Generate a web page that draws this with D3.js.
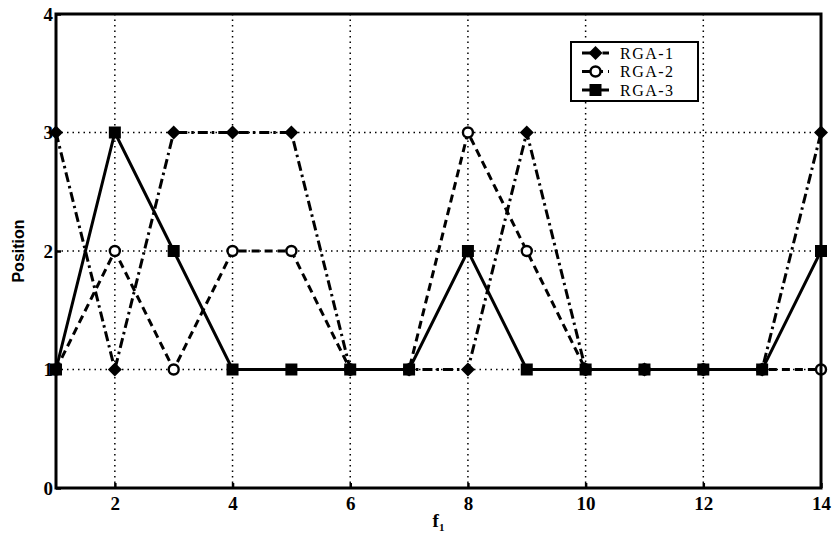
<!DOCTYPE html>
<html>
<head>
<meta charset="utf-8">
<script src="https://cdn.jsdelivr.net/npm/d3@7"></script>
<style>
  body { margin: 0; background: #fff; }
  text { fill: #000; }
</style>
</head>
<body>
<svg id="chart" width="838" height="535"></svg>
<script>
// data
var xs = [1, 2, 3, 4, 5, 6, 7, 8, 9, 10, 11, 12, 13, 14]
var rga1 = [3, 1, 3, 3, 3, 1, 1, 1, 3, 1, 1, 1, 1, 3]
var rga2 = [1, 2, 1, 2, 2, 1, 1, 3, 2, 1, 1, 1, 1, 1]
var rga3 = [1, 3, 2, 1, 1, 1, 1, 2, 1, 1, 1, 1, 1, 2]
var seriesNames = ["RGA-1", "RGA-2", "RGA-3"]
var xTicks = [2, 4, 6, 8, 10, 12, 14]
var yTicks = [0, 1, 2, 3, 4]

// plot box (note: "top" is taken by window.top)
var pLeft = 56, pRight = 821, pTop = 14, pBottom = 488

var svg = d3.select("#chart")

var x = d3.scaleLinear().domain([1, 14]).range([pLeft, pRight])
var y = d3.scaleLinear().domain([0, 4]).range([pBottom, pTop])

// grid
var grid = svg.append("g")
grid.selectAll(".gx").data(xTicks.filter(v => v < 14)).enter().append("line")
    .attr("x1", d => x(d)).attr("x2", d => x(d))
    .attr("y1", pTop).attr("y2", pBottom)
    .attr("stroke", "#000").attr("stroke-width", 1.5)
    .attr("stroke-dasharray", "1.5,4")
grid.selectAll(".gy").data(yTicks.filter(v => v > 0 && v < 4)).enter().append("line")
    .attr("x1", pLeft).attr("x2", pRight)
    .attr("y1", d => y(d)).attr("y2", d => y(d))
    .attr("stroke", "#000").attr("stroke-width", 1.5)
    .attr("stroke-dasharray", "1.5,4")

// axes
var fontTick = "'Liberation Serif', 'DejaVu Serif', serif"
var xAxis = svg.append("g").attr("transform", "translate(0," + pBottom + ")")
    .call(d3.axisBottom(x).tickValues(xTicks).tickFormat(d3.format("d"))
      .tickSize(-5).tickPadding(9))
var yAxis = svg.append("g").attr("transform", "translate(" + pLeft + ",0)")
    .call(d3.axisLeft(y).tickValues(yTicks).tickFormat(d3.format("d"))
      .tickSize(-5).tickPadding(3))
;[xAxis, yAxis].forEach(a => {
  a.select(".domain").remove()
  a.selectAll(".tick line").attr("stroke", "#000").attr("stroke-width", 2.5)
  a.selectAll(".tick text").attr("font-family", fontTick)
    .attr("font-size", 19).attr("font-weight", "bold").attr("fill", "#000")
})

// series
var styles = [
  { data: rga1, dash: "10,4,2.5,4", marker: "diamond" },
  { data: rga2, dash: "8,5", marker: "circle" },
  { data: rga3, dash: null, marker: "square" }
]

var line = d3.line().x(d => x(d[0])).y(d => y(d[1]))

function drawMarker(g, type, cx, cy) {
  if (type == "diamond")
    g.append("path").attr("d", d3.symbol(d3.symbolDiamond2, 125)())
      .attr("transform", "translate(" + cx + "," + cy + ")")
      .attr("fill", "#000")
  else if (type == "circle")
    g.append("circle").attr("cx", cx).attr("cy", cy).attr("r", 5)
      .attr("fill", "#fff").attr("stroke", "#000").attr("stroke-width", 2.4)
  else
    g.append("rect").attr("x", cx - 6).attr("y", cy - 6)
      .attr("width", 12).attr("height", 12).attr("fill", "#000")
}

styles.forEach(s => {
  var pts = xs.map((v, i) => [v, s.data[i]])
  svg.append("path").datum(pts).attr("d", line)
    .attr("fill", "none").attr("stroke", "#000").attr("stroke-width", 3)
    .attr("stroke-dasharray", s.dash)
})
styles.forEach(s => {
  var g = svg.append("g")
  xs.forEach((v, i) => drawMarker(g, s.marker, x(v), y(s.data[i])))
})

// frame
svg.append("rect").attr("x", pLeft).attr("y", pTop)
  .attr("width", pRight - pLeft).attr("height", pBottom - pTop)
  .attr("fill", "none").attr("stroke", "#000").attr("stroke-width", 3)

// labels
svg.append("text").attr("transform", "translate(24," + ((pTop + pBottom) / 2) + ") rotate(-90)")
  .attr("text-anchor", "middle")
  .attr("font-family", "'Liberation Sans Narrow', 'Liberation Sans', sans-serif")
  .attr("font-weight", "bold").attr("font-size", 16).text("Position")

var xl = svg.append("text").attr("x", x(7.5)).attr("y", 527)
  .attr("text-anchor", "middle").attr("font-family", fontTick)
  .attr("font-weight", "bold").attr("font-size", 19)
xl.append("tspan").text("f")
xl.append("tspan").attr("font-size", 11).attr("dy", 4).text("1")

// legend
var lg = svg.append("g").attr("transform", "translate(571,42)")
lg.append("rect").attr("width", 127).attr("height", 59)
  .attr("fill", "#fff").attr("stroke", "#000").attr("stroke-width", 2)
seriesNames.forEach((n, i) => {
  var cy = 11 + i * 18.5
  lg.append("line").attr("x1", 11).attr("x2", 38).attr("y1", cy).attr("y2", cy)
    .attr("stroke", "#000").attr("stroke-width", 3)
    .attr("stroke-dasharray", styles[i].dash)
  drawMarker(lg, styles[i].marker, 24.5, cy)
  lg.append("text").attr("x", 49).attr("y", cy + 5.5)
    .attr("font-family", fontTick).attr("font-size", 16)
    .attr("letter-spacing", 1.5).text(n)
})
</script>
</body>
</html>
